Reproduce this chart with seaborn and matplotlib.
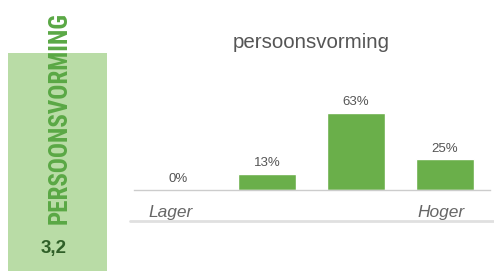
import matplotlib
matplotlib.use("Agg")
import matplotlib.pyplot as plt
import matplotlib.patches as mpatches
import seaborn as sns
import pandas as pd

# data
categories = ["1", "2", "3", "4"]
percentages = [0, 13, 63, 25]
value_labels = ["0%", "13%", "63%", "25%"]
title = "persoonsvorming"
side_label = "PERSOONSVORMING"
score = "3,2"
axis_ends = ["Lager", "Hoger"]

sns.set_theme(style="white")
plt.rcParams['font.family'] = ['Liberation Sans', 'DejaVu Sans']
condensed = ['Roboto Condensed', 'Liberation Sans', 'DejaVu Sans']

W, H = 494, 271
fig = plt.figure(figsize=(W / 100, H / 100), dpi=100)
fig.patch.set_facecolor("white")

# left score panel
fig.patches.append(mpatches.Rectangle((8 / W, 0), 99 / W, (H - 53) / H,
                                      transform=fig.transFigure, facecolor="#b9dca6",
                                      edgecolor="none", zorder=0))
fig.text(60 / W, 1 - 118 / H, side_label, rotation=90, ha="center", va="center",
         fontsize=18, fontweight="bold", color="#5aa845", family=condensed)
fig.text(53.5 / W, 1 - 249 / H, score, ha="center", va="center",
         fontsize=13.5, fontweight="bold", color="#2f5f28")

# bar chart
ax = fig.add_axes([133.5 / W, 81 / H, 356 / W, 97.8 / H])
df = pd.DataFrame({"cat": categories, "pct": percentages})
sns.barplot(data=df, x="cat", y="pct", color="#6aaf4a", saturation=1,
            width=0.66, ax=ax)
ax.set_xlim(-0.5, 3.5)
ax.set_ylim(0, 80)
for i, (v, lab) in enumerate(zip(percentages, value_labels)):
    ax.text(i, v + 4, lab, ha="center", va="bottom", fontsize=9.5,
            color="#555555", clip_on=False)
ax.set_xticks([])
ax.set_yticks([])
ax.set_xlabel("")
ax.set_ylabel("")
for s in ["top", "right", "left"]:
    ax.spines[s].set_visible(False)
ax.spines["bottom"].set_color("#cccccc")
ax.spines["bottom"].set_linewidth(1)
ax.patch.set_alpha(0)

fig.text(311 / W, 1 - 42 / H, title, ha="center", va="center",
         fontsize=14.8, color="#555555")
fig.text(171 / W, 1 - 212 / H, axis_ends[0], ha="center", va="center",
         fontsize=12.5, style="italic", color="#666666")
fig.text(441 / W, 1 - 212 / H, axis_ends[1], ha="center", va="center",
         fontsize=12.5, style="italic", color="#666666")

# light rule under the chart
fig.lines.append(plt.Line2D([130 / W, 1], [1 - 221 / H, 1 - 221 / H],
                            transform=fig.transFigure, color="#e0e0e0", linewidth=2))

fig.savefig("out.png", dpi=100, facecolor="white")
